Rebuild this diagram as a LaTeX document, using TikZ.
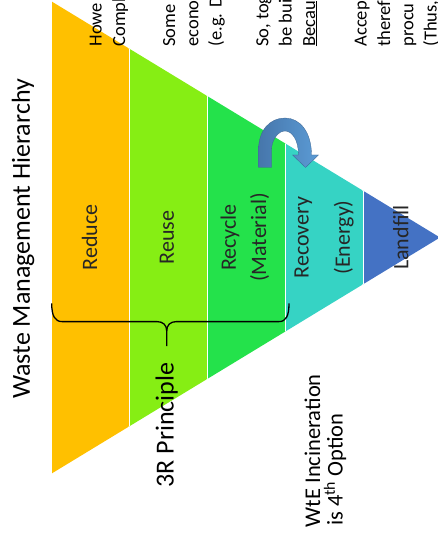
\documentclass[tikz,border=0pt]{standalone}
\usepackage{fontspec}
\setmainfont{Carlito}
\definecolor{reduceC}{HTML}{FFC000}
\definecolor{reuseC}{HTML}{86EE14}
\definecolor{recycleC}{HTML}{24E24B}
\definecolor{recoveryC}{HTML}{36D3C4}
\definecolor{landfillC}{HTML}{4472C4}
\definecolor{arrowDark}{HTML}{4676AB}
\definecolor{arrowLight}{HTML}{5B9BD5}
\begin{document}
\begin{tikzpicture}[x=1pt,y=-1pt,
  bandlabel/.style={font=\fontsize{22}{26}\selectfont, text=black!85, rotate=90, inner sep=0pt},
  sidenote/.style={font=\fontsize{18.5}{22}\selectfont, rotate=90, anchor=base west, inner sep=0pt},
  bigtext/.style={rotate=90, inner sep=0pt},
  separator/.style={white, line width=1pt}]
\useasboundingbox (0,0) rectangle (438,537);

% pyramid corners
\coordinate (TL) at (52,1.7);
\coordinate (BL) at (52,473.3);
\coordinate (AP) at (440,237.5);

% coloured bands of the pyramid
\begin{scope}
  \clip (TL) -- (AP) -- (BL) -- cycle;
  \fill[reduceC]   (50,0)    rectangle (129.3,480);
  \fill[reuseC]    (129.3,0) rectangle (207.3,480);
  \fill[recycleC]  (207.3,0) rectangle (285.7,480);
  \fill[recoveryC] (285.7,0) rectangle (363.3,480);
  \fill[landfillC] (363.3,0) rectangle (445,480);
  \foreach \x in {129.3,207.3,285.7,363.3}
    \draw[separator] (\x,0) -- (\x,480);
\end{scope}

% side notes (run off the top edge)
\node[sidenote] (n1)  at (101.7,46.7) {Howe};
\node[sidenote] (n2)  at (125.0,46.7) {Compl};
\node[sidenote] (n3)  at (175.0,46.7) {Some};
\node[sidenote] (n4)  at (198.3,46.7) {econo};
\node[sidenote] (n5)  at (221.6,46.7) {(e.g. D};
\node[sidenote] (n6)  at (268.3,46.7) {So, tog};
\node[sidenote] (n7)  at (291.6,46.7) {be bui};
\node[sidenote] (n8)  at (315.0,46.7) {\underline{Becau}};
\node[sidenote] (n9)  at (366.7,46.7) {Accep};
\node[sidenote] (n10) at (390.0,46.7) {theref};
\node[sidenote] (n11) at (413.3,46.7) {procu};
\node[sidenote] (n12) at (436.6,46.7) {(Thus,};

% band labels
\node[bandlabel] (reduce)   at (89.5,237.5)  {Reduce};
\node[bandlabel] (reuse)    at (167,237.5)   {Reuse};
\node[bandlabel] (recycle)  at (230,237.5)   {Recycle};
\node[bandlabel] (material) at (259.7,237.5) {(Material)};
\node[bandlabel] (recovery) at (303.3,237.5) {Recovery};
\node[bandlabel] (energy)   at (343.7,237.5) {(Energy)};
\node[bandlabel] (landfill) at (400.8,237.5) {Landfill};

% title
\node[bigtext, font=\fontsize{26}{30}\selectfont] (title) at (23,239) {Waste Management Hierarchy};

% brace over the first three bands
\draw[line width=1.3pt]
  (51.7,303.3) .. controls (51.7,316) and (55,321.6) .. (62,321.6)
  -- (157,321.6) .. controls (163,321.6) and (166.7,325) .. (166.7,331)
  -- (166.7,346);
\draw[line width=1.3pt]
  (166.7,331) .. controls (166.7,325) and (170.4,321.6) .. (176.4,321.6)
  -- (279,321.6) .. controls (286,321.6) and (289,316) .. (289,303.3);
\coordinate (bracetip) at (166.7,346);

\node[bigtext, font=\fontsize{26}{30}\selectfont] (threeR) at (166.7,425) {3R Principle};

% WtE note
\node[bigtext, anchor=base west, font=\fontsize{22.5}{26}\selectfont] (wte1) at (320,527.4) {WtE Incineration};
\node[bigtext, anchor=base west, font=\fontsize{22.5}{26}\selectfont] (wte2) at (342.5,526) {is 4\textsuperscript{th} Option};

% curved arrow from Recycle to Recovery
\shade[left color=arrowDark, right color=arrowLight, draw=arrowDark!85!black, line width=0.3pt]
  (258.5,167.5) -- (258.5,150)
  .. controls (258.5,130) and (270,118) .. (285,118)
  .. controls (300,118) and (311.5,132) .. (311.5,155)
  -- (318.5,155) -- (305.5,167.5) -- (292.5,155) -- (298.5,155)
  .. controls (298.5,140) and (292,131) .. (285,131)
  .. controls (278,131) and (271.5,140) .. (271.5,150)
  -- (271.5,167.5) -- cycle;
\end{tikzpicture}
\end{document}
